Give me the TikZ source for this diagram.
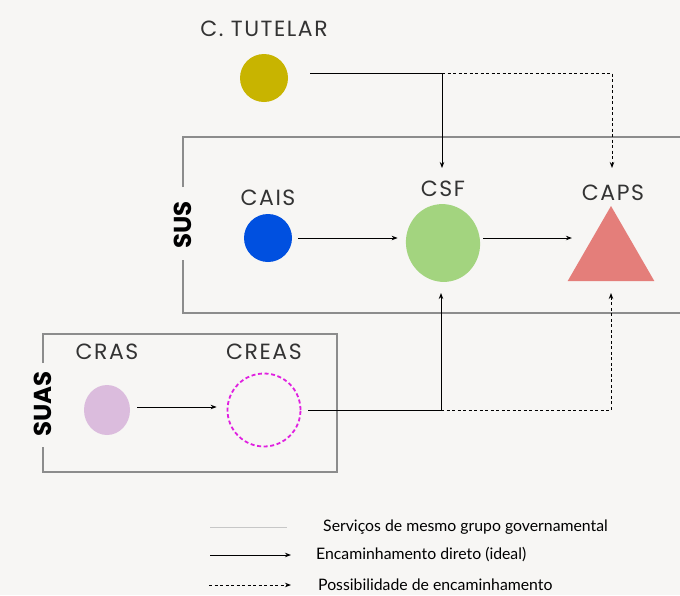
\documentclass[tikz,border=0pt]{standalone}
\usepackage{fontspec}
\setmainfont{Poppins}
\newfontfamily\legfont{Lato}
\newfontfamily\labfont[LetterSpace=7]{Poppins}
\usetikzlibrary{shapes.geometric,arrows.meta}
\definecolor{bg}{HTML}{F7F6F4}
\definecolor{boxgray}{HTML}{8C8C8C}
\definecolor{labgray}{HTML}{333333}
\definecolor{tutelar}{HTML}{C8B400}
\definecolor{cais}{HTML}{0050E0}
\definecolor{csf}{HTML}{A3D47F}
\definecolor{caps}{HTML}{E47E7A}
\definecolor{cras}{HTML}{DBBCDD}
\definecolor{creas}{HTML}{E020E0}
\begin{document}
\begin{tikzpicture}[x=1pt,y=-1pt,
  lab/.style={font=\labfont\fontsize{22}{24}\selectfont, text=labgray, inner sep=0pt},
  grp/.style={font=\bfseries\fontsize{24.5}{26}\selectfont, text=black, rotate=90, inner sep=0pt},
  boxline/.style={draw=boxgray, line width=1.4pt},
  arr/.style={draw=black, line width=0.9pt, -{Stealth[length=6pt,width=4.5pt]}},
  darr/.style={arr, dash pattern=on 3pt off 2.5pt},
  leg/.style={font=\legfont\fontsize{15.8}{18}\selectfont, text=black, anchor=west, inner sep=0pt}]
\fill[bg] (0,0) rectangle (680,595);
\useasboundingbox (0,0) rectangle (680,595);

% group boxes
\draw[boxline] (183,187) -- (183,137) -- (700,137);
\draw[boxline] (183,260) -- (183,313) -- (700,313);
\node[grp] (sus) at (183,225) {SUS};
\draw[boxline] (43,363) -- (43,334) -- (337,334) -- (337,472) -- (43,472) -- (43,447);
\node[grp] (suas) at (43,404) {SUAS};

% services
\node[circle, fill=tutelar, minimum size=48pt, inner sep=0pt] (tut) at (264,78) {};
\node[lab] (tutl) at (264,29) {C. TUTELAR};
\node[circle, fill=cais, minimum size=48pt, inner sep=0pt] (cais) at (268,238) {};
\node[lab] (caisl) at (268,198) {CAIS};
\node[ellipse, fill=csf, minimum width=74pt, minimum height=78pt, inner sep=0pt, rotate=12] (csf) at (443,243) {};
\node[lab] (csfl) at (443,189) {CSF};
\node[regular polygon, regular polygon sides=3, fill=caps, minimum size=100pt, inner sep=0pt] (caps) at (611,256) {};
\node[lab] (capsl) at (613,193) {CAPS};
\node[ellipse, fill=cras, minimum width=46pt, minimum height=50pt, inner sep=0pt] (cras) at (107,410) {};
\node[lab] (crasl) at (107,352) {CRAS};
\node[circle, draw=creas, line width=1.8pt, dash pattern=on 4pt off 2.6pt, minimum size=73pt, inner sep=0pt] (creas) at (264,410) {};
\node[lab] (creasl) at (264,352) {CREAS};

% connector bend points
\coordinate (tstart) at (310,73);
\coordinate (tcsf) at (442,73);
\coordinate (tcaps) at (612,73);
\coordinate (csfin) at (442,168);
\coordinate (capsin) at (612,168);
\coordinate (cstart) at (308,410);
\coordinate (ccsf) at (441,410);
\coordinate (ccaps) at (611,410);
\coordinate (csfup) at (441,293);
\coordinate (capsup) at (611,293);

% connectors
\draw[arr] (tstart) -- (tcsf) -- (csfin);
\draw[darr] (tcsf) -- (tcaps) -- (capsin);
\draw[arr] ([xshift=6pt]cais.east) -- ([xshift=-9pt]csf.west |- cais.east);
\draw[arr] ([xshift=4pt]csf.east |- cais.east) -- ([xshift=-10pt]caps.west |- cais.east);
\draw[arr] ([xshift=7pt]cras.east |- 0,407) -- ([xshift=-10pt]creas.west |- 0,407);
\draw[arr] (cstart) -- (ccsf) -- (csfup);
\draw[darr] (ccsf) -- (ccaps) -- (capsup);

% legend
\coordinate (l1a) at (210,527); \coordinate (l1b) at (287,527);
\coordinate (l2a) at (210,555); \coordinate (l2b) at (291,555);
\coordinate (l3a) at (209,585); \coordinate (l3b) at (291,585);
\draw[draw=black!22, line width=1pt] (l1a) -- (l1b);
\draw[arr] (l2a) -- (l2b);
\draw[darr] (l3a) -- (l3b);
\node[leg] (t1) at (323,527) {Serviços de mesmo grupo governamental};
\node[leg] (t2) at (316,555) {Encaminhamento direto (ideal)};
\node[leg] (t3) at (318,585) {Possibilidade de encaminhamento};
\end{tikzpicture}
\end{document}
